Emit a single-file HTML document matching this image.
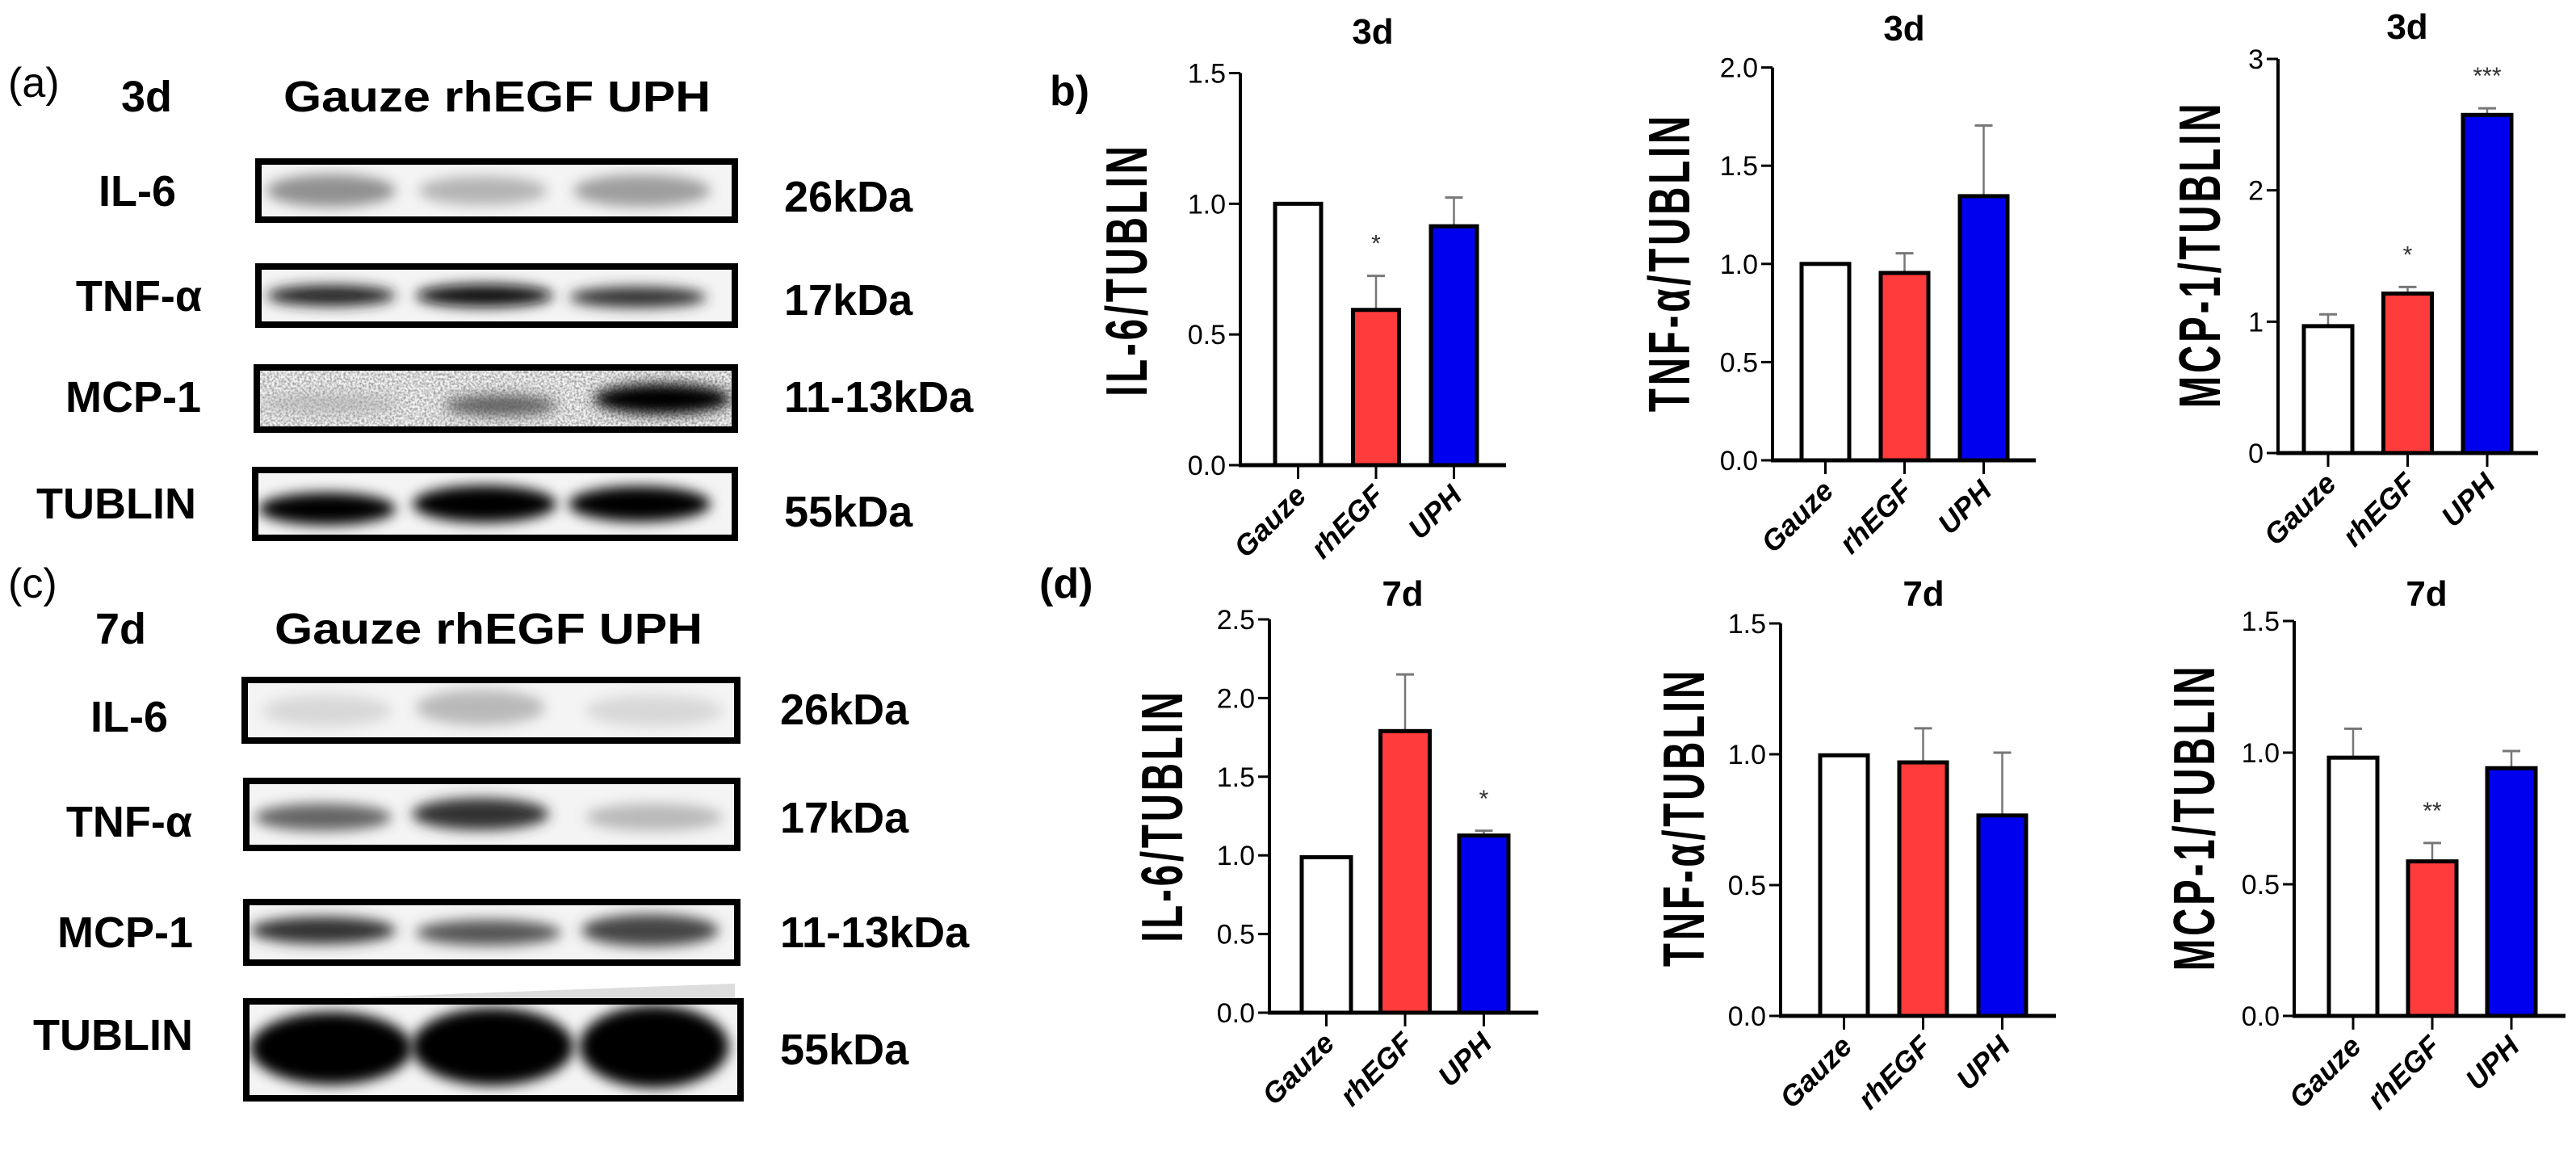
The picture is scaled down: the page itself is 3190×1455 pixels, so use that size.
<!DOCTYPE html>
<html><head><meta charset="utf-8"><style>
html,body{margin:0;padding:0;background:#fff}
svg{display:block}
text{font-family:"Liberation Sans",Arial,sans-serif}
</style></head><body>
<svg id="fig" width="3190" height="1455" viewBox="0 0 3190 1455" xmlns="http://www.w3.org/2000/svg">
<defs>
<filter id="blur8" x="-30%" y="-60%" width="160%" height="220%"><feGaussianBlur stdDeviation="8"/></filter>
<filter id="noise" x="0" y="0" width="100%" height="100%"><feTurbulence type="fractalNoise" baseFrequency="0.35" numOctaves="2" seed="3"/><feColorMatrix type="matrix" values="0 0 0 0 0  0 0 0 0 0  0 0 0 0 0  0 0 0 -1.6 1.05"/></filter>
<clipPath id="mcpclip"><rect x="318" y="455" width="592" height="77"/></clipPath>
</defs>

<!-- Panel labels -->
<text x="10" y="120" font-size="52">(a)</text>
<text x="10" y="740" font-size="52">(c)</text>
<text x="1300" y="130" font-size="52" font-weight="bold">b)</text>
<text x="1287" y="740" font-size="52" font-weight="bold">(d)</text>

<!-- Blot headers -->
<g font-weight="bold" font-size="54">
<text x="150" y="138">3d</text>
<text x="351" y="138" textLength="529" lengthAdjust="spacingAndGlyphs">Gauze rhEGF UPH</text>
<text x="118" y="797">7d</text>
<text x="340" y="797" textLength="530" lengthAdjust="spacingAndGlyphs">Gauze rhEGF UPH</text>
</g>

<polygon points="310,1240 910,1218 910,1240" fill="#ddd"/>
<g id="blots"></g>

<g id="charts"></g>
</svg>

<script>
// ---------- DATA ----------
const categories = ["Gauze", "rhEGF", "UPH"];

const il6_3d = [1.0, 0.594, 0.914];
const il6_3d_err = [0, 0.13, 0.11];
const il6_3d_sig = ["", "*", ""];
const il6_3d_ticks = ["0.0", "0.5", "1.0", "1.5"];

const tnf_3d = [1.0, 0.954, 1.345];
const tnf_3d_err = [0, 0.10, 0.36];
const tnf_3d_sig = ["", "", ""];
const tnf_3d_ticks = ["0.0", "0.5", "1.0", "1.5", "2.0"];

const mcp_3d = [0.966, 1.214, 2.574];
const mcp_3d_err = [0.09, 0.05, 0.05];
const mcp_3d_sig = ["", "*", "***"];
const mcp_3d_ticks = ["0", "1", "2", "3"];

const il6_7d = [0.988, 1.79, 1.126];
const il6_7d_err = [0, 0.36, 0.03];
const il6_7d_sig = ["", "", "*"];
const il6_7d_ticks = ["0.0", "0.5", "1.0", "1.5", "2.0", "2.5"];

const tnf_7d = [0.996, 0.969, 0.766];
const tnf_7d_err = [0, 0.13, 0.24];
const tnf_7d_sig = ["", "", ""];
const tnf_7d_ticks = ["0.0", "0.5", "1.0", "1.5"];

const mcp_7d = [0.981, 0.587, 0.941];
const mcp_7d_err = [0.11, 0.07, 0.065];
const mcp_7d_sig = ["", "**", ""];
const mcp_7d_ticks = ["0.0", "0.5", "1.0", "1.5"];

const colors = ["#ffffff", "#ff3b3b", "#0000ee"];

// ---------- LAYOUT ----------
const NS = "http://www.w3.org/2000/svg";
function mk(tag, attrs, parent) {
  const e = document.createElementNS(NS, tag);
  for (const k in attrs) e.setAttribute(k, attrs[k]);
  if (parent) parent.appendChild(e);
  return e;
}

const charts = [
  {key:"il6-3d", vals:il6_3d, err:il6_3d_err, sig:il6_3d_sig, ticks:il6_3d_ticks, title:"3d", ylab:"IL-6/TUBLIN",
   ax:1536, yT:90.5, y0:576, off:43, pitch:96.5, w:57, end:1865, tx:1700, ty:54, lx:1398, ly:334},
  {key:"tnf-3d", vals:tnf_3d, err:tnf_3d_err, sig:tnf_3d_sig, ticks:tnf_3d_ticks, title:"3d", ylab:"TNF-α/TUBLIN",
   ax:2195, yT:83.6, y0:570, off:36, pitch:98, w:59, end:2521, tx:2358, ty:50, lx:2070, ly:325},
  {key:"mcp-3d", vals:mcp_3d, err:mcp_3d_err, sig:mcp_3d_sig, ticks:mcp_3d_ticks, title:"3d", ylab:"MCP-1/TUBLIN",
   ax:2821, yT:73, y0:561, off:32, pitch:98.5, w:60, end:3143, tx:2981, ty:48, lx:2727, ly:315},
  {key:"il6-7d", vals:il6_7d, err:il6_7d_err, sig:il6_7d_sig, ticks:il6_7d_ticks, title:"7d", ylab:"IL-6/TUBLIN",
   ax:1572, yT:767, y0:1254, off:40, pitch:97.5, w:61, end:1905, tx:1737, ty:750, lx:1442, ly:1010},
  {key:"tnf-7d", vals:tnf_7d, err:tnf_7d_err, sig:tnf_7d_sig, ticks:tnf_7d_ticks, title:"7d", ylab:"TNF-α/TUBLIN",
   ax:2205, yT:772, y0:1258, off:49, pitch:98, w:59, end:2546, tx:2382, ty:750, lx:2088, ly:1012},
  {key:"mcp-7d", vals:mcp_7d, err:mcp_7d_err, sig:mcp_7d_sig, ticks:mcp_7d_ticks, title:"7d", ylab:"MCP-1/TUBLIN",
   ax:2841, yT:769, y0:1258, off:43, pitch:98, w:60, end:3177, tx:3005, ty:750, lx:2720, ly:1012}
];

const root = document.getElementById("charts");
charts.forEach(c => {
  const g = mk("g", {}, root);
  
  
  const maxV = parseFloat(c.ticks[c.ticks.length - 1]);
  const y = v => c.y0 - (v / maxV) * (c.y0 - c.yT);
  const xL = i => c.ax + c.off + i * c.pitch;

  const t = mk("text", {x:c.tx, y:c.ty, "text-anchor":"middle", "font-size":44, "font-weight":"bold"}, g);
  t.textContent = c.title;
  
  

  const yl = mk("text", {x:0, y:0, "text-anchor":"middle", "font-size":50, "font-weight":"bold", "letter-spacing":"4",
    transform:`translate(${c.lx + 22},${c.ly}) rotate(-90) scale(0.95,1.45)`}, g);
  yl.textContent = c.ylab;
  
  

  c.vals.forEach((v, i) => {
    const x = xL(i);
    const top = y(v);
    const e = c.err[i];
    if (e > 0) {
      const et = y(v + e);
      const cx = x + c.w / 2;
      const el = mk("line", {x1:cx, x2:cx, y1:top, y2:et, stroke:"#777", "stroke-width":2.5}, g);
      
      
      const cap = mk("line", {x1:cx - 11, x2:cx + 11, y1:et, y2:et, stroke:"#777", "stroke-width":3}, g);
      
      
    }
    const r = mk("rect", {x:x, y:top, width:c.w, height:c.y0 - top, fill:colors[i], stroke:"#000", "stroke-width":5}, g);
    
    
    if (c.sig[i]) {
      const s = mk("text", {x:x + c.w / 2, y:y(v + e) - 30, "text-anchor":"middle", "font-size":30, fill:"#333"}, g);
      s.textContent = c.sig[i];
      
      
    }
    const cx = x + c.w / 2;
    const tk = mk("line", {x1:cx, x2:cx, y1:c.y0, y2:c.y0 + 17, stroke:"#000", "stroke-width":3}, g);
    
    
    const lb = mk("text", {x:0, y:0, "text-anchor":"end", "font-size":36, "font-weight":"bold", "font-style":"italic",
      transform:`translate(${cx + 12},${c.y0 + 40}) rotate(-45)`}, g);
    lb.textContent = categories[i];
    
    
  });

  const ya = mk("line", {x1:c.ax, x2:c.ax, y1:c.yT, y2:c.y0 + 2, stroke:"#000", "stroke-width":4}, g);
  
  
  const xa = mk("line", {x1:c.ax - 2, x2:c.end, y1:c.y0, y2:c.y0, stroke:"#000", "stroke-width":5}, g);
  
  
  c.ticks.forEach(tl => {
    const ty = y(parseFloat(tl));
    const tm = mk("line", {x1:c.ax - 14, x2:c.ax, y1:ty, y2:ty, stroke:"#000", "stroke-width":3}, g);
    
    
    const tt = mk("text", {x:c.ax - 18, y:ty + 12, "text-anchor":"end", "font-size":34}, g);
    tt.textContent = tl;
    
    
  });
});

// ---------- BLOTS ----------
const blotRoot = document.getElementById("blots");
const blots = [
  {name:"IL-6", kda:"26kDa", x:320, y:200, w:590, h:72, lx:170, ly:255, kx:971, ky:262,
   bands:[[410,236,140,40,"#777",0.8],[598,236,140,36,"#999",0.7],[795,236,150,40,"#888",0.8]], noise:false},
  {name:"TNF-α", kda:"17kDa", x:320, y:330, w:590, h:72, lx:172, ly:385, kx:971, ky:390,
   bands:[[410,366,140,26,"#222",1],[600,366,150,28,"#111",1],[790,368,150,26,"#333",1]], noise:false},
  {name:"MCP-1", kda:"11-13kDa", x:318, y:455, w:592, h:77, lx:165, ly:510, kx:971, ky:510,
   bands:[[410,500,150,25,"#aaa",0.6],[620,502,120,26,"#555",0.9],[820,494,150,38,"#000",1]], noise:true},
  {name:"TUBLIN", kda:"55kDa", x:316, y:582, w:594, h:84, lx:144, ly:642, kx:971, ky:652,
   bands:[[405,630,150,40,"#000",1],[600,624,158,46,"#000",1],[792,624,156,44,"#000",1]], noise:false},
  {name:"IL-6", kda:"26kDa", x:303, y:842, w:610, h:75, lx:160, ly:906, kx:966, ky:897,
   bands:[[405,880,140,40,"#ccc",0.7],[595,876,140,44,"#aaa",0.8],[810,880,150,40,"#ccc",0.7]], noise:false},
  {name:"TNF-α", kda:"17kDa", x:305, y:967, w:608, h:83, lx:160, ly:1036, kx:966, ky:1031,
   bands:[[400,1012,150,34,"#555",0.9],[595,1008,150,40,"#333",1],[810,1012,150,34,"#aaa",0.8]], noise:false},
  {name:"MCP-1", kda:"11-13kDa", x:305, y:1117, w:608, h:75, lx:155, ly:1173, kx:966, ky:1173,
   bands:[[400,1152,160,34,"#333",1],[605,1155,160,32,"#555",1],[805,1152,150,40,"#444",1]], noise:false},
  {name:"TUBLIN", kda:"55kDa", x:305, y:1240, w:612, h:120, lx:140, ly:1300, kx:966, ky:1318,
   bands:[[410,1298,180,90,"#000",1],[610,1296,180,96,"#000",1],[810,1296,165,102,"#000",1]], noise:false}
];
blots.forEach((b, bi) => {
  const g = mk("g", {}, blotRoot);
  
  
  const cp = "clip" + bi;
  const clip = mk("clipPath", {id:cp}, g);
  mk("rect", {x:b.x, y:b.y, width:b.w, height:b.h}, clip);
  const bg = mk("g", {"clip-path":`url(#${cp})`}, g);
  mk("rect", {x:b.x, y:b.y, width:b.w, height:b.h, fill:"#f4f4f4"}, bg);
  if (b.noise) mk("rect", {x:b.x, y:b.y, width:b.w, height:b.h, filter:"url(#noise)", opacity:0.5}, bg);
  b.bands.forEach(d => {
    const band = mk("ellipse", {cx:d[0], cy:d[1], rx:d[2] / 2 + 10, ry:d[3] / 2, fill:d[4], opacity:d[5], filter:"url(#blur8)"}, bg);
    
    
  });
  mk("rect", {x:b.x, y:b.y, width:b.w, height:b.h, fill:"none", stroke:"#000", "stroke-width":8}, g);
  const l = mk("text", {x:b.lx, y:b.ly, "text-anchor":"middle", "font-size":54, "font-weight":"bold"}, g);
  l.textContent = b.name;
  
  
  const k = mk("text", {x:b.kx, y:b.ky, "font-size":54, "font-weight":"bold"}, g);
  k.textContent = b.kda;
  
  
});
</script>
</body></html>
